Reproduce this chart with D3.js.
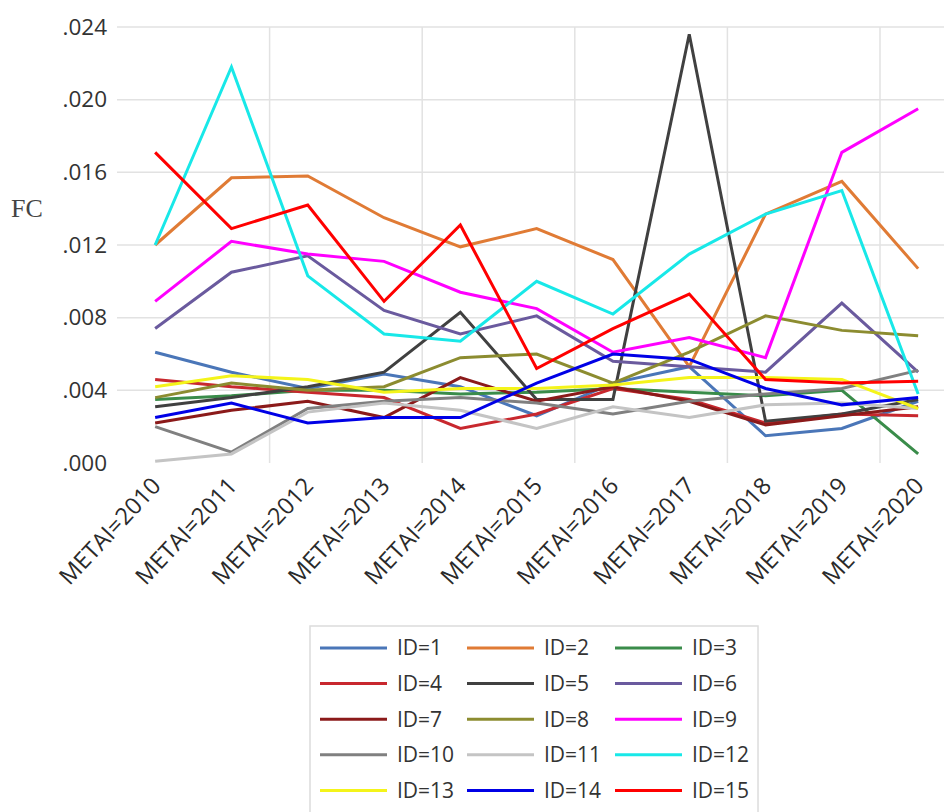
<!DOCTYPE html>
<html><head><meta charset="utf-8">
<script src="https://cdn.jsdelivr.net/npm/d3@7"></script>
<style>body{margin:0;background:#fff}svg{display:block}</style>
</head><body><svg id="c" width="944" height="812"></svg>
<script>
const years = ["METAI=2010","METAI=2011","METAI=2012","METAI=2013","METAI=2014","METAI=2015","METAI=2016","METAI=2017","METAI=2018","METAI=2019","METAI=2020"];
const yTicks = [0, 0.004, 0.008, 0.012, 0.016, 0.020, 0.024];
const seriesNames = ["ID=1","ID=2","ID=3","ID=4","ID=5","ID=6","ID=7","ID=8","ID=9","ID=10","ID=11","ID=12","ID=13","ID=14","ID=15"];
const id1  = [0.0061,0.0050,0.0041,0.0049,0.0042,0.0026,0.0044,0.0053,0.0015,0.0019,0.0034];
const id2  = [0.0120,0.0157,0.0158,0.0135,0.0119,0.0129,0.0112,0.0053,0.0137,0.0155,0.0107];
const id3  = [0.0035,0.0037,0.0040,0.0040,0.0038,0.0039,0.0041,0.0039,0.0037,0.0040,0.0005];
const id4  = [0.0046,0.0042,0.0039,0.0036,0.0019,0.0027,0.0041,0.0035,0.0022,0.0027,0.0026];
const id5  = [0.0031,0.0036,0.0042,0.0050,0.0083,0.0035,0.0035,0.0236,0.0023,0.0027,0.0035];
const id6  = [0.0074,0.0105,0.0114,0.0084,0.0071,0.0081,0.0056,0.0053,0.0050,0.0088,0.0050];
const id7  = [0.0022,0.0029,0.0034,0.0025,0.0047,0.0034,0.0042,0.0034,0.0021,0.0026,0.0031];
const id8  = [0.0036,0.0044,0.0040,0.0042,0.0058,0.0060,0.0044,0.0061,0.0081,0.0073,0.0070];
const id9  = [0.0089,0.0122,0.0115,0.0111,0.0094,0.0085,0.0061,0.0069,0.0058,0.0171,0.0195];
const id10 = [0.0020,0.0006,0.0030,0.0034,0.0036,0.0033,0.0027,0.0034,0.0038,0.0041,0.0051];
const id11 = [0.0001,0.0005,0.0028,0.0033,0.0029,0.0019,0.0031,0.0025,0.0032,0.0033,0.0030];
const id12 = [0.0120,0.0218,0.0103,0.0071,0.0067,0.0100,0.0082,0.0115,0.0137,0.0150,0.0038];
const id13 = [0.0042,0.0048,0.0046,0.0039,0.0041,0.0041,0.0043,0.0047,0.0047,0.0046,0.0030];
const id14 = [0.0025,0.0033,0.0022,0.0025,0.0025,0.0044,0.0060,0.0057,0.0041,0.0032,0.0036];
const id15 = [0.0171,0.0129,0.0142,0.0089,0.0131,0.0052,0.0074,0.0093,0.0046,0.0044,0.0045];
const colors = ["#4a76b8","#e07b35","#3a8c4a","#c8282e","#404040","#6a5a9e","#8b1a1a","#8c8c30","#ff00ff","#808080","#c4c4c4","#18e8e8","#f4f41a","#0000e6","#ff0000"];
const allValues = [id1,id2,id3,id4,id5,id6,id7,id8,id9,id10,id11,id12,id13,id14,id15];

const svg = d3.select("#c");
const pLeft = 117, pRight = 117 + 11*76.3, pTop = 27, pBottom = 463;
const x = d3.scaleBand().domain(years).range([pLeft, pRight]);
const y = d3.scaleLinear().domain([0, 0.024]).range([pBottom, pTop]);
const font = "'Open Sans', sans-serif";

// horizontal grid
svg.append("g").selectAll("line").data(yTicks.filter(d=>d>0)).join("line")
  .attr("x1", pLeft).attr("x2", 944).attr("y1", d=>y(d)).attr("y2", d=>y(d))
  .attr("stroke", "#e2e2e2").attr("stroke-width", 1.5);
// vertical grid at every other band boundary
const vIdx = [2,4,6,8,10];
svg.append("g").selectAll("line").data(vIdx).join("line")
  .attr("x1", d=>x(years[d-1]) + x.bandwidth()).attr("x2", d=>x(years[d-1]) + x.bandwidth())
  .attr("y1", pTop).attr("y2", pBottom)
  .attr("stroke", "#e2e2e2").attr("stroke-width", 1.5);

// y tick labels
const yAxis = d3.axisLeft(y).tickValues(yTicks).tickSize(0).tickPadding(0)
  .tickFormat(d => d3.format(".3f")(d).replace(/^0/, ""));
const gy = svg.append("g").attr("transform", `translate(107,0)`).call(yAxis);
gy.select(".domain").remove();
gy.selectAll("text").attr("font-family", font).attr("font-size", 22.5).attr("fill", "#333");

svg.append("text").attr("x", 11).attr("y", 217).text("FC")
  .attr("font-family", "'Liberation Serif', 'DejaVu Serif', serif").attr("font-size", 26).attr("fill", "#444");

// x labels
const xAxis = d3.axisBottom(x).tickSize(0).tickPadding(0);
const gx = svg.append("g").attr("transform", `translate(0,${pBottom})`).call(xAxis);
gx.select(".domain").remove();
gx.selectAll("text").attr("font-family", font).attr("font-size", 23.5).attr("fill", "#2a2a2a")
  .attr("text-anchor", "end").attr("dy", 0)
  .attr("transform", "translate(7,24) rotate(-47)");

// lines
const line = d3.line().x((d,i)=>x(years[i]) + x.bandwidth()/2).y(d=>y(d));
svg.append("g").selectAll("path").data(allValues).join("path")
  .attr("d", line).attr("fill", "none")
  .attr("stroke", (d,i)=>colors[i]).attr("stroke-width", 3).attr("stroke-linejoin", "miter");

// legend
const lg = svg.append("g");
lg.append("rect").attr("x", 310).attr("y", 626).attr("width", 448).attr("height", 200)
  .attr("fill", "#fff").attr("stroke", "#dcdcdc").attr("stroke-width", 1.5);
const colX = [320, 467, 615];
const item = lg.selectAll("g").data(seriesNames).join("g")
  .attr("transform", (d,i)=>`translate(${colX[i%3]},${648 + Math.floor(i/3)*35.6})`);
item.append("line").attr("x1", 0).attr("x2", 67).attr("stroke", (d,i)=>colors[i]).attr("stroke-width", 3);
item.append("text").attr("x", 77).attr("dy", "0.35em").text(d=>d)
  .attr("font-family", font).attr("font-size", 21).attr("fill", "#333");
</script></body></html>
